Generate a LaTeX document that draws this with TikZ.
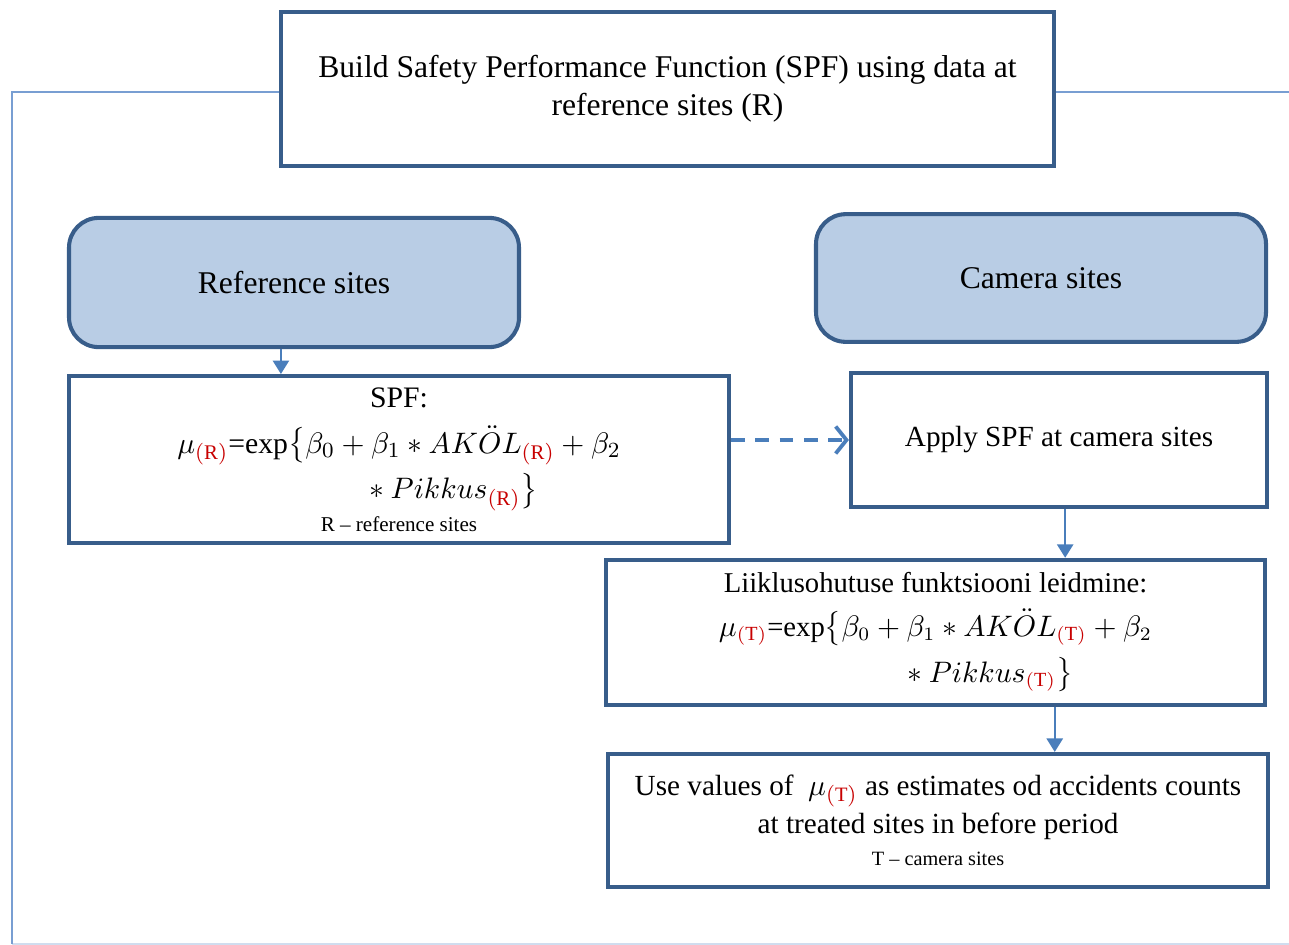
\documentclass[tikz,border=0pt]{standalone}
\usepackage{fontspec}
\setmainfont{Liberation Serif}
\usepackage{amsmath,amssymb}
\usepackage{tikz}
\usetikzlibrary{arrows,arrows.meta,shapes}

\definecolor{boxblue}{RGB}{56,93,138}
\definecolor{sitefill}{RGB}{185,205,229}
\definecolor{arrowblue}{RGB}{74,126,187}
\definecolor{frameblue}{RGB}{120,158,210}
\definecolor{subred}{RGB}{200,0,0}

\newcommand{\redsub}[1]{\textcolor{subred}{(\mathrm{#1})}}
\newcommand{\fsz}[2]{\fontsize{#1}{#2}\selectfont}

\begin{document}
\begin{tikzpicture}[x=0.013cm,y=-0.013cm]
                \tikzstyle{mybox}=[draw=boxblue, line width=1.5pt, fill=white, align=center, inner sep=2pt, font=\fsz{11.7}{14}]
                \tikzstyle{mysite}=[mybox, fill=sitefill, rounded corners=11pt]
                \tikzstyle{myarrows}=[draw=arrowblue, line width=0.8pt, -{Triangle[width=6pt,length=5pt]}]
                \tikzstyle{mydash}=[draw=arrowblue, line width=1.4pt, dash pattern=on 5pt off 4pt, -{Straight Barb[length=4pt,width=10pt,line width=1.4pt]}]
                \tikzstyle{myframe}=[draw=frameblue, line width=0.8pt]
                \useasboundingbox (0,0) rectangle (1289,944);
                \coordinate (TL) at (12,92);
                \coordinate (BL) at (12,944);
                \coordinate (TR) at (1289,92);
                \coordinate (BR) at (1289,944);

                \node[mybox, minimum width=10.05cm, minimum height=2.0cm] (build) at (667.5,89)
                    {Build Safety Performance Function (SPF) using data at\\ reference sites (R)};
                \node[mysite, minimum width=5.85cm, minimum height=1.68cm] (refsites) at (294,282.5) {Reference sites};
                \node[mysite, minimum width=5.85cm, minimum height=1.66cm] (camsites) at (1041,278) {Camera sites};

                \node[mybox, minimum width=8.58cm, minimum height=2.17cm, font=\fsz{11}{14}] (spf) at (399,459.5)
                    {SPF:\\[3pt]
                     $\mu_{\redsub{R}}$=exp$\bigl\{\beta_0+\beta_1\ast AK\ddot{O}L_{\redsub{R}}+\beta_2$\\[3pt]
                     \hspace*{38pt}${}\ast Pikkus_{\redsub{R}}\bigr\}$\\[-2pt]
                     {\fsz{7.8}{9}R -- reference sites}};
                \node[mybox, minimum width=5.41cm, minimum height=1.74cm, font=\fsz{10.8}{13}] (apply) at (1059,440) {Apply SPF at camera sites};
                \node[mybox, minimum width=8.57cm, minimum height=1.89cm, font=\fsz{10.6}{14}] (liik) at (935.5,632.5)
                    {Liiklusohutuse funktsiooni leidmine:\\[2pt]
                     $\mu_{\redsub{T}}$=exp$\bigl\{\beta_0+\beta_1\ast AK\ddot{O}L_{\redsub{T}}+\beta_2$\\[3pt]
                     \hspace*{38pt}${}\ast Pikkus_{\redsub{T}}\bigr\}$};
                \node[mybox, minimum width=8.58cm, minimum height=1.73cm, font=\fsz{10.8}{14}] (use) at (938,820.5)
                    {Use values of \ $\mu_{\redsub{T}}$ as estimates od accidents counts\\
                     at treated sites in before period\\[-2pt]
                     {\fsz{7.5}{9}T -- camera sites}};

                % outer frame lines
                \draw[myframe] (build.west |- TL) -- (TL) -- (BL);
                \draw[myframe, draw opacity=0.35] (BL) -- (BR);
                \draw[myframe] (build.east |- TR) -- (TR);

                % connectors
                \draw[myarrows] ([xshift=-0.17cm]refsites.south) -- ([xshift=-0.17cm]refsites.south |- spf.north);
                \draw[mydash] (spf.east |- apply.west) -- (apply.west);
                \draw[myarrows] ([xshift=0.08cm]apply.south) -- ([xshift=0.08cm]apply.south |- liik.north);
                \draw[myarrows] ([xshift=1.55cm]liik.south) -- ([xshift=1.55cm]liik.south |- use.north);
\end{tikzpicture}
\end{document}
